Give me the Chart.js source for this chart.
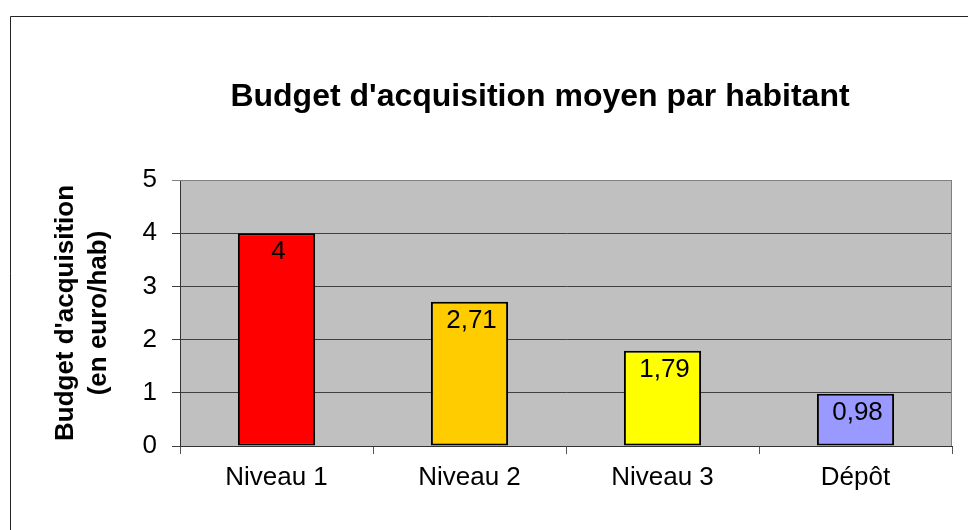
<!DOCTYPE html>
<html>
<head>
<meta charset="utf-8">
<script src="https://cdn.jsdelivr.net/npm/chart.js@4.4.1/dist/chart.umd.min.js"></script>
<style>
  html, body { margin: 0; padding: 0; background: #fff; }
  #wrap { width: 968px; height: 530px; position: relative; }
</style>
</head>
<body>
<div id="wrap"><canvas id="budgetChart"></canvas></div>
<script>
// chart data
const categories = ['Niveau 1', 'Niveau 2', 'Niveau 3', 'Dépôt'];
const budgetValues = [4, 2.71, 1.79, 0.98];
const barColors = ['#FF0000', '#FFCC00', '#FFFF00', '#9999FF'];
const yTicks = [0, 1, 2, 3, 4, 5];
const chartTitle = "Budget d'acquisition moyen par habitant";
const yTitle = ["Budget d'acquisition", '(en euro/hab)'];

const FONT = '"Liberation Sans", Arial, sans-serif';

// gray plot background, outer frame, title
const framePlugin = {
    id: 'frame',
    beforeDraw(chart) {
        const { ctx, chartArea: a } = chart;
        ctx.save();
        ctx.fillStyle = '#C0C0C0';
        ctx.fillRect(a.left, a.top, a.right - a.left, a.bottom - a.top);
        // outer border of the chart object
        ctx.strokeStyle = '#222';
        ctx.lineWidth = 1;
        ctx.beginPath();
        ctx.moveTo(10.5, 600);
        ctx.lineTo(10.5, 16.5);
        ctx.lineTo(1000, 16.5);
        ctx.stroke();
        // title
        ctx.fillStyle = '#000';
        ctx.font = 'bold 32px ' + FONT;
        ctx.textAlign = 'center';
        ctx.textBaseline = 'middle';
        ctx.fillText(chartTitle, 540, 97);
        ctx.restore();
    },
    afterDatasetsDraw(chart) {
        const { ctx, chartArea: a } = chart;
        ctx.save();
        ctx.strokeStyle = '#808080';
        ctx.lineWidth = 1;
        ctx.beginPath();
        ctx.moveTo(a.left, a.top + 0.5);
        ctx.lineTo(a.right - 0.5, a.top + 0.5);
        ctx.lineTo(a.right - 0.5, a.bottom);
        ctx.stroke();
        ctx.restore();
    }
};

// value labels inside the top of each bar
const valueLabels = {
    id: 'valueLabels',
    afterDatasetsDraw(chart) {
        const { ctx } = chart;
        const meta = chart.getDatasetMeta(0);
        ctx.save();
        ctx.fillStyle = '#000';
        ctx.font = '26px ' + FONT;
        ctx.textAlign = 'center';
        ctx.textBaseline = 'alphabetic';
        meta.data.forEach((bar, i) => {
            const txt = String(budgetValues[i]).replace('.', ',');
            ctx.fillText(txt, bar.x + 2, bar.y + 26);
        });
        ctx.restore();
    }
};

new Chart(document.getElementById('budgetChart'), {
    type: 'bar',
    data: {
        labels: categories,
        datasets: [{
            data: budgetValues,
            backgroundColor: barColors,
            borderColor: '#000',
            borderWidth: 2,
            borderSkipped: false,
            barPercentage: 0.4,
            categoryPercentage: 1.0
        }]
    },
    options: {
        responsive: true,
        maintainAspectRatio: false,
        animation: false,
        layout: { padding: { top: 180, right: 16, left: 0, bottom: 0 } },
        plugins: {
            legend: { display: false },
            tooltip: { enabled: false },
            title: { display: false }
        },
        scales: {
            x: {
                offset: true,
                grid: { offset: true, drawOnChartArea: false, tickLength: 8, color: '#555' },
                border: { color: '#333', width: 1 },
                ticks: { color: '#000', font: { family: FONT, size: 26 }, padding: 8 },
                afterFit: (s) => { s.height = 84; }
            },
            y: {
                min: 0,
                max: 5,
                afterBuildTicks: (s) => { s.ticks = yTicks.map(v => ({ value: v })); },
                grid: {
                    color: (c) => c.tick && c.tick.value === 5 ? '#808080' : '#404040',
                    tickLength: 8
                },
                border: { color: '#333', width: 1 },
                ticks: { color: '#000', font: { family: FONT, size: 26 }, padding: 15 },
                title: {
                    display: true,
                    text: yTitle,
                    color: '#000',
                    font: { family: FONT, size: 26, weight: 'bold', lineHeight: 1.27 },
                    padding: { top: 49, bottom: 0 }
                },
                afterFit: (s) => { s.width = 180; }
            }
        }
    },
    plugins: [framePlugin, valueLabels]
});
</script>
</body>
</html>
